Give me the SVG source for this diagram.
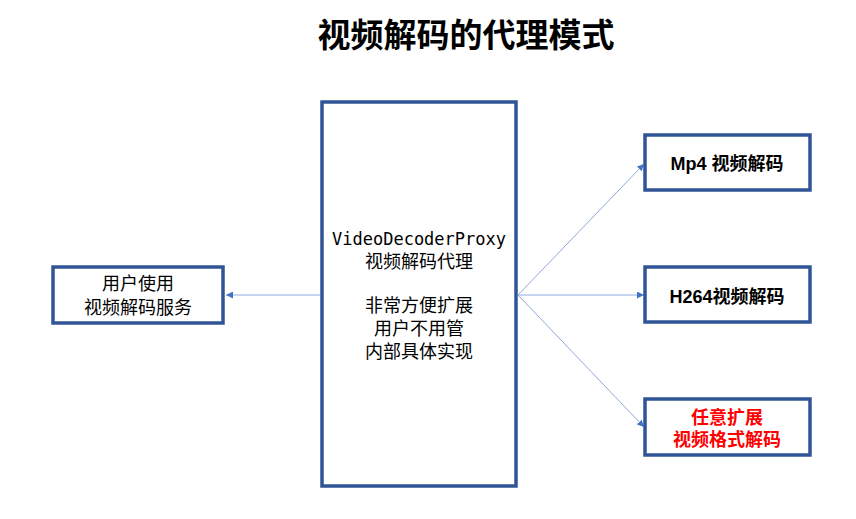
<svg xmlns="http://www.w3.org/2000/svg" width="856" height="519" viewBox="0 0 856 519">
<defs>
<style>
.box{fill:#fff;stroke:#2F5597;stroke-width:3.5}
.t{font-family:"Liberation Sans","Noto Sans CJK SC",sans-serif;font-size:18px;fill:#000;text-anchor:middle}
.b{font-weight:bold}
.mono{font-family:"DejaVu Sans Mono","Liberation Mono",monospace;font-size:17px}
.red{fill:#FF0000}
.c{stroke:#8FAADC;stroke-width:1;fill:none;marker-end:url(#ah)}
</style>
<marker id="ah" viewBox="0 0 10 10" refX="10" refY="5" markerWidth="7" markerHeight="7" markerUnits="userSpaceOnUse" orient="auto">
<path d="M0,0 L10,5 L0,10 z" fill="#4472C4"/>
</marker>
</defs>
<rect width="856" height="519" fill="#fff"/>
<text x="466" y="47" class="t b" style="font-size:33px">视频解码的代理模式</text>
<g id="connectors">
<line class="c" x1="320" y1="295" x2="226" y2="295"/>
<line class="c" x1="518" y1="295" x2="644" y2="164"/>
<line class="c" x1="518" y1="295" x2="644" y2="295"/>
<line class="c" x1="518" y1="295" x2="644" y2="427"/>
</g>
<g id="proxy">
<rect class="box" x="322" y="102" width="194" height="384"/>
<text x="419" y="245" class="t mono">VideoDecoderProxy</text>
<text x="419" y="268" class="t">视频解码代理</text>
<text x="419" y="312" class="t">非常方便扩展</text>
<text x="419" y="335" class="t">用户不用管</text>
<text x="419" y="358" class="t">内部具体实现</text>
</g>
<g id="user">
<rect class="box" x="53" y="267" width="170" height="56"/>
<text x="138" y="290" class="t">用户使用</text>
<text x="138" y="314" class="t">视频解码服务</text>
</g>
<g id="mp4">
<rect class="box" x="645" y="135" width="165" height="55"/>
<text x="727" y="170" class="t b">Mp4 视频解码</text>
</g>
<g id="h264">
<rect class="box" x="645" y="267" width="165" height="55"/>
<text x="727" y="303" class="t b">H264视频解码</text>
</g>
<g id="any">
<rect class="box" x="645" y="399" width="165" height="56"/>
<text x="727" y="424" class="t b red">任意扩展</text>
<text x="727" y="446" class="t b red">视频格式解码</text>
</g>
</svg>
